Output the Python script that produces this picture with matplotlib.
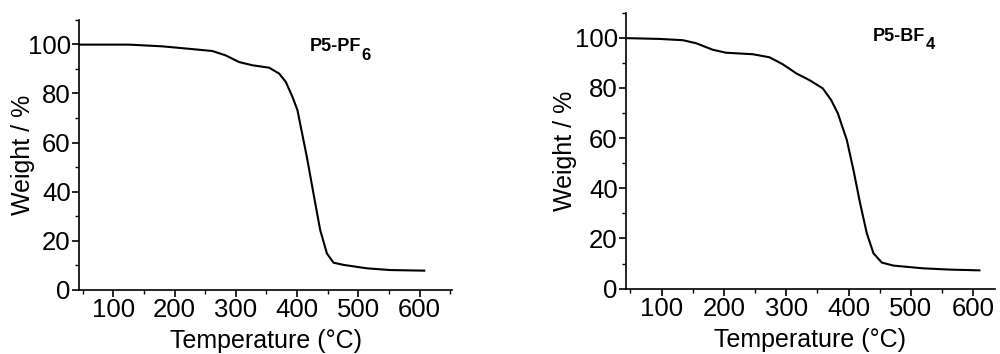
import matplotlib
matplotlib.use("Agg")
import matplotlib.pyplot as plt
from matplotlib.ticker import MultipleLocator

plt.rcParams['font.family'] = ['Liberation Sans', 'DejaVu Sans']

# P5-PF6 TGA curve
temp_pf6 = [44, 125.7, 180, 223.7, 261.8, 283.6, 305.4, 327, 354.5, 370.8, 381.7,
            392.5, 400.7, 405, 416, 426.8, 437.8, 448.7, 459.5, 475.9, 514, 552, 607.7]
weight_pf6 = [99.9, 99.9, 99.2, 98.2, 97.3, 95.5, 92.8, 91.5, 90.5, 88.1, 84.7,
              78.6, 73.2, 67.8, 54.2, 39.3, 24.4, 14.9, 11.1, 10.2, 8.8, 8.1, 7.85]

# P5-BF4 TGA curve
temp_bf4 = [45.7, 96.5, 134, 155.4, 182, 203.5, 246.4, 273, 294.5, 316, 337.2,
            358.7, 372, 382.8, 397.3, 407.9, 418.6, 429.3, 440, 453.4, 472, 520,
            563, 610]
weight_bf4 = [99.8, 99.5, 99.0, 97.8, 95.2, 94.0, 93.4, 92.2, 89.4, 85.8, 83.1,
              79.8, 75.2, 69.9, 59.2, 47.3, 34.0, 22.1, 14.1, 10.4, 9.2, 8.1,
              7.6, 7.3]

xticks = [100, 200, 300, 400, 500, 600]
yticks = [0, 20, 40, 60, 80, 100]

fig = plt.figure(figsize=(10, 3.54), dpi=100)
ax1 = fig.add_axes([0.079, 0.181, 0.373, 0.763])
ax2 = fig.add_axes([0.626, 0.1845, 0.369, 0.78])

panels = [
    (ax1, temp_pf6, weight_pf6, (44, 653), ('P5-PF', '6'), (421, 97.2), -0.150),
    (ax2, temp_bf4, weight_bf4, (43, 635), ('P5-BF', '4'), (439.5, 98.8), -0.165),
]

for ax, t, w, xl, label, pos, ylx in panels:
    ax.plot(t, w, color='black', lw=1.5, solid_joinstyle='round')
    ax.set_xlim(*xl)
    ax.set_ylim(0, 110)
    ax.set_xticks(xticks)
    ax.set_yticks(yticks)
    ax.xaxis.set_minor_locator(MultipleLocator(50))
    ax.yaxis.set_minor_locator(MultipleLocator(10))
    ax.spines['top'].set_visible(False)
    ax.spines['right'].set_visible(False)
    for s in ('left', 'bottom'):
        ax.spines[s].set_linewidth(1.2)
    ax.tick_params(which='major', direction='out', length=5, width=1.2,
                   labelsize=18.5, pad=1)
    ax.tick_params(which='minor', direction='out', length=3, width=1.0)
    ax.set_xlabel('Temperature (°C)', fontsize=18, labelpad=5)
    ax.set_ylabel('Weight / %', fontsize=18, va='center')
    ax.yaxis.set_label_coords(ylx, 0.5)
    main = ax.text(pos[0], pos[1], label[0], fontsize=13, fontweight='bold',
                   ha='left', va='baseline')
    ax.annotate(label[1], xy=(1, 0), xycoords=main, xytext=(0.1, -3.2),
                textcoords='offset points', fontsize=12, fontweight='bold',
                ha='left', va='baseline')

fig.savefig('out.png', dpi=100)
